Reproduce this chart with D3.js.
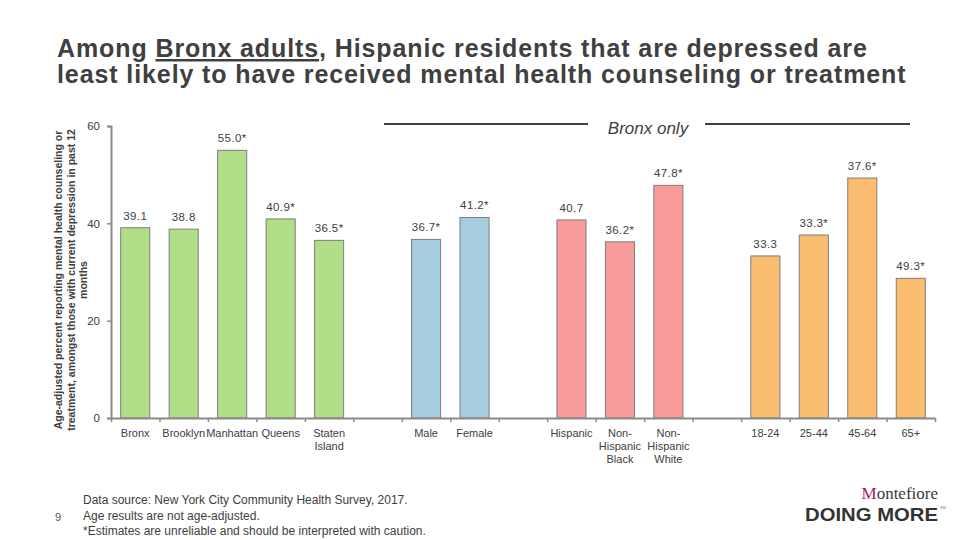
<!DOCTYPE html>
<html><head><meta charset="utf-8">
<script src="https://cdn.jsdelivr.net/npm/d3@7"></script>
<style>
body{margin:0;background:#fff;}
svg{display:block;font-family:"Liberation Sans",Arial,sans-serif;}
</style></head>
<body><svg id="c" width="960" height="540"></svg>
<script>
// ---- data ----
const slots = ["Bronx","Brooklyn","Manhattan","Queens","Staten Island","gap1","Male","Female","gap2","Hispanic","Non-Hispanic Black","Non-Hispanic White","gap3","18-24","25-44","45-64","65+"];
const categories = ["Bronx","Brooklyn","Manhattan","Queens","Staten Island","Male","Female","Hispanic","Non-Hispanic Black","Non-Hispanic White","18-24","25-44","45-64","65+"];
const tickLabels = [["Bronx"],["Brooklyn"],["Manhattan"],["Queens"],["Staten","Island"],["Male"],["Female"],["Hispanic"],["Non-","Hispanic","Black"],["Non-","Hispanic","White"],["18-24"],["25-44"],["45-64"],["65+"]];
const values = [39.1,38.8,55.0,40.9,36.5,36.7,41.2,40.7,36.2,47.8,33.3,37.6,49.3,28.7];
const valueLabels = ["39.1","38.8","55.0*","40.9*","36.5*","36.7*","41.2*","40.7","36.2*","47.8*","33.3","33.3*","37.6*","49.3*"];
const groups = ["borough","borough","borough","borough","borough","sex","sex","race","race","race","age","age","age","age"];
const yTicks = [0,20,40,60];
const groupColors = {borough:"#b3de89",sex:"#a6cce0",race:"#f89b9a",age:"#fbbd6f"};

const svg = d3.select("#c");
const ink = "#404040";
const axisCol = "#8a8a8a";

// title
const title = svg.append("text").attr("x",57).attr("fill",ink)
  .attr("font-size",25).attr("font-weight","bold").attr("letter-spacing",0.9);
const l1 = title.append("tspan").attr("x",57).attr("y",57);
l1.append("tspan").text("Among ");
l1.append("tspan").attr("text-decoration","underline").text("Bronx adults");
l1.append("tspan").text(", Hispanic residents that are depressed are");
title.append("tspan").attr("x",57).attr("y",83).text("least likely to have received mental health counseling or treatment");

// scales
const y = d3.scaleLinear().domain([0,60]).range([418,126]);
const x = d3.scaleBand().domain(slots).range([111,935]).paddingInner(0.4).paddingOuter(0.2);
const xb = d3.scaleLinear().domain([0,slots.length]).range([111,935]);

// bars
const data = categories.map((c,i)=>({c,v:values[i],lab:valueLabels[i],g:groups[i],t:tickLabels[i]}));
svg.append("g").selectAll("rect").data(data).join("rect")
  .attr("x",d=>x(d.c)).attr("width",x.bandwidth())
  .attr("y",d=>y(d.v)).attr("height",d=>y(0)-y(d.v))
  .attr("fill",d=>groupColors[d.g]).attr("stroke","#7d7d7d").attr("stroke-width",1);

svg.append("g").selectAll("text").data(data).join("text")
  .attr("x",d=>x(d.c)+x.bandwidth()/2).attr("y",d=>y(d.v)-8)
  .attr("text-anchor","middle").attr("font-size",11.5).attr("letter-spacing",0.4).attr("fill",ink)
  .text(d=>d.lab);

// y axis
const ya = svg.append("g").attr("transform","translate(111,0)")
  .call(d3.axisLeft(y).tickValues(yTicks).tickSize(4).tickPadding(7));
ya.select(".domain").attr("stroke",axisCol).attr("stroke-width",2);
ya.selectAll(".tick line").attr("stroke",axisCol).attr("stroke-width",1.5);
ya.selectAll(".tick text").attr("font-size",11.5).attr("fill",ink).attr("font-family","Liberation Sans, Arial, sans-serif");

// x axis
const xa = svg.append("g").attr("transform","translate(0,418)")
  .call(d3.axisBottom(xb).tickValues(d3.range(slots.length+1)).tickSize(4).tickSizeOuter(0).tickFormat(""));
xa.select(".domain").attr("stroke",axisCol).attr("stroke-width",2);
xa.selectAll(".tick line").attr("stroke",axisCol).attr("stroke-width",1.5);

const xl = svg.append("g").selectAll("text").data(data).join("text")
  .attr("text-anchor","middle").attr("font-size",11).attr("fill",ink);
xl.each(function(d){
  const t=d3.select(this);
  d.t.forEach((s,i)=>t.append("tspan").attr("x",x(d.c)+x.bandwidth()/2).attr("y",437+i*13).text(s));
});

// y label
const yl = svg.append("text").attr("transform","translate(0,280) rotate(-90)")
  .attr("text-anchor","middle").attr("font-size",10.5).attr("font-weight","bold").attr("fill",ink);
["Age-adjusted percent reporting mental health counseling or","treatment, amongst those with current depression in past 12","months"]
  .forEach((s,i)=>yl.append("tspan").attr("x",0).attr("y",62+i*12.5).text(s));

// Bronx only
svg.append("line").attr("x1",384).attr("x2",588).attr("y1",124).attr("y2",124).attr("stroke",ink).attr("stroke-width",2);
svg.append("line").attr("x1",705).attr("x2",910).attr("y1",124).attr("y2",124).attr("stroke",ink).attr("stroke-width",2);
svg.append("text").attr("x",648).attr("y",134).attr("text-anchor","middle").attr("font-size",17)
  .attr("font-style","italic").attr("fill",ink).text("Bronx only");

// footnotes
const notes = ["Data source: New York City Community Health Survey, 2017.","Age results are not age-adjusted.","*Estimates are unreliable and should be interpreted with caution."];
svg.append("g").selectAll("text").data(notes).join("text")
  .attr("x",83).attr("y",(d,i)=>504+i*15.5).attr("font-size",12).attr("fill",ink).text(d=>d);
svg.append("text").attr("x",55).attr("y",521).attr("font-size",11).attr("fill","#555").text("9");

// logo
const m = svg.append("text").attr("x",938).attr("y",499).attr("text-anchor","end")
  .attr("font-family","Liberation Serif, serif").attr("font-size",17).attr("fill","#3a3a3a");
m.append("tspan").attr("fill","#a3195b").text("M");
m.append("tspan").text("ontefiore");
svg.append("text").attr("x",805).attr("y",521).attr("textLength",133).attr("lengthAdjust","spacingAndGlyphs")
  .attr("font-size",18).attr("font-weight","bold").attr("fill","#333").text("DOING MORE");
svg.append("text").attr("x",940).attr("y",509).attr("font-size",4).attr("fill","#777").text("SM");
</script></body></html>
